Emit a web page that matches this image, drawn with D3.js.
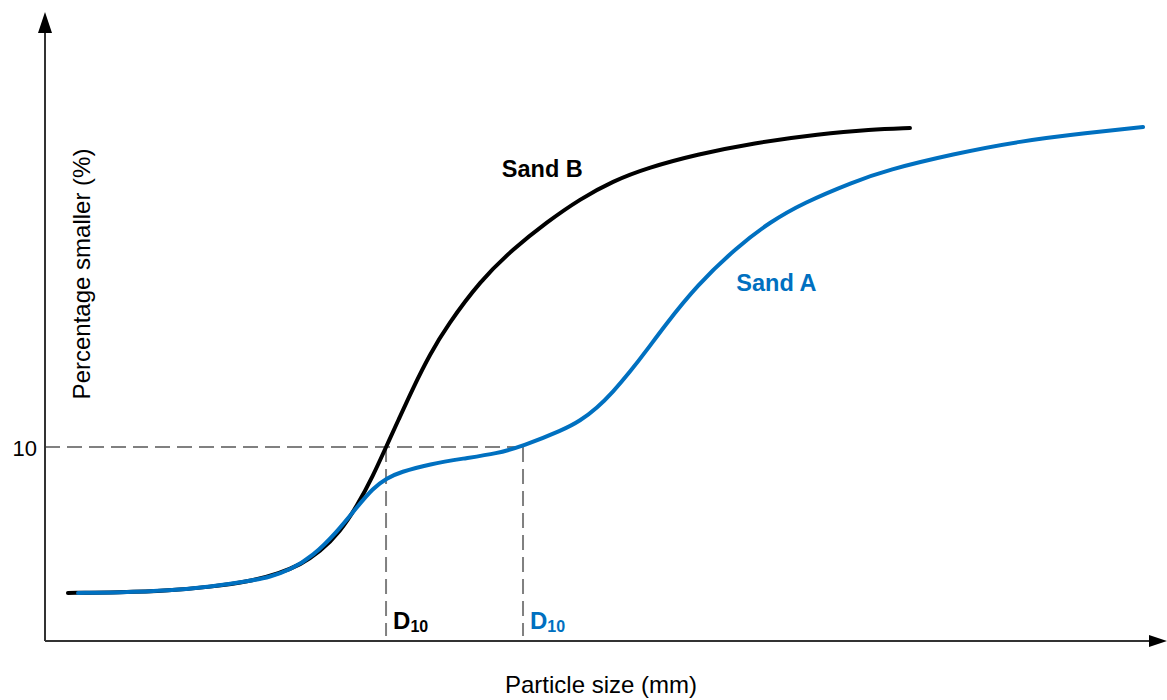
<!DOCTYPE html>
<html>
<head>
<meta charset="utf-8">
<script src="https://cdn.jsdelivr.net/npm/d3@7"></script>
<style>
  html, body { margin: 0; padding: 0; background: #fff; }
  svg { display: block; font-family: "Liberation Sans", Arial, sans-serif; }
</style>
</head>
<body>
<svg id="chart" width="1167" height="700"></svg>
<script>
// ---- data (schematic particle-size distribution curves) ----
const sandBSize = [2.05, 6.7, 11.16, 14.73, 18.3, 20.98, 22.77, 24.55, 26.34, 27.86, 29.29, 30.45, 31.52, 32.86, 34.38, 35.89, 38.84, 41.79, 44.82, 47.77, 50.71, 53.75, 58.21, 63.21, 69.2, 73.66, 77.23];
const sandBPct  = [2.44, 2.46, 2.56, 2.75, 3.03, 3.47, 3.89, 4.56, 5.6, 6.94, 8.5, 10.0, 11.35, 13.06, 14.82, 16.27, 18.6, 20.26, 21.66, 22.85, 23.78, 24.46, 25.16, 25.75, 26.22, 26.45, 26.53];

const sandASize = [2.95, 6.7, 11.16, 14.73, 18.3, 20.09, 21.88, 23.93, 26.07, 27.86, 29.29, 30.54, 31.7, 34.38, 37.32, 40.36, 42.68, 46.25, 47.77, 49.29, 50.71, 52.23, 53.75, 55.18, 58.21, 61.79, 64.73, 67.68, 72.14, 75.18, 81.07, 87.05, 93.04, 98.04];
const sandAPct  = [2.44, 2.46, 2.56, 2.75, 3.06, 3.26, 3.63, 4.35, 5.6, 6.89, 7.88, 8.39, 8.7, 9.12, 9.4, 9.66, 10.05, 10.88, 11.35, 12.02, 12.85, 13.89, 15.03, 16.17, 18.39, 20.36, 21.66, 22.64, 23.73, 24.35, 25.18, 25.85, 26.27, 26.58];

const yTickValues = [10];
const yTickLabels = ["10"];
const d10Values = [30.45, 42.68];          // D10 of Sand B, Sand A
const d10Colors = ["#000000", "#0070C0"];
const seriesNames = ["Sand B", "Sand A"];
const seriesColors = ["#000000", "#0070C0"];
const seriesLabelPos = [[44.4, 24.0], [65.3, 18.1]];  // label anchor in data units
const xTitle = "Particle size (mm)";
const yTitle = "Percentage smaller (%)";

// ---- scales ----
const x = d3.scaleLinear().domain([0, 100]).range([45, 1165]);
const y = d3.scaleLinear().domain([0, 10]).range([640, 447]);

const svg = d3.select("#chart");

// ---- dashed D10 guides ----
const guide = svg.append("g")
  .attr("stroke", "#808080").attr("stroke-width", 2)
  .attr("stroke-dasharray", "15,7").attr("fill", "none");
guide.append("line")
  .attr("x1", x(0)).attr("x2", x(d3.max(d10Values)))
  .attr("y1", y(10)).attr("y2", y(10));
d10Values.forEach(v => {
  guide.append("line")
    .attr("x1", x(v)).attr("x2", x(v))
    .attr("y1", y(10)).attr("y2", y(0) - 4);
});

// ---- curves ----
const line = d3.line().x(d => x(d[0])).y(d => y(d[1])).curve(d3.curveBasis);
const seriesData = [d3.zip(sandBSize, sandBPct), d3.zip(sandASize, sandAPct)];
seriesData.forEach((data, i) => {
  svg.append("path")
    .datum(data)
    .attr("d", line)
    .attr("fill", "none")
    .attr("stroke", seriesColors[i])
    .attr("stroke-width", 4)
    .attr("stroke-linecap", "round")
    .attr("stroke-linejoin", "round");
});

// ---- axes with arrows ----
const axisColor = "#333333";
svg.append("line")
  .attr("x1", x(0)).attr("x2", x(0))
  .attr("y1", y(0) + 1).attr("y2", 28)
  .attr("stroke", axisColor).attr("stroke-width", 2);
svg.append("path")
  .attr("d", `M${x(0)},12 L${x(0) - 7},33 L${x(0) + 7},33 Z`)
  .attr("fill", "#000");
svg.append("line")
  .attr("x1", x(0)).attr("x2", 1152)
  .attr("y1", y(0) + 1).attr("y2", y(0) + 1)
  .attr("stroke", axisColor).attr("stroke-width", 2);
svg.append("path")
  .attr("d", `M1167,${y(0) + 1} L1149,${y(0) - 5} L1149,${y(0) + 7} Z`)
  .attr("fill", "#000");

// ---- y tick label ----
yTickValues.forEach((v, i) => {
  svg.append("text")
    .attr("x", x(0) - 8).attr("y", y(v) + 9)
    .attr("text-anchor", "end")
    .attr("font-size", 22)
    .attr("fill", "#000")
    .text(yTickLabels[i]);
});

// ---- D10 labels ----
d10Values.forEach((v, i) => {
  const t = svg.append("text")
    .attr("x", x(v) + 7).attr("y", y(0) - 11)
    .attr("font-weight", "bold")
    .attr("font-size", 24)
    .attr("fill", d10Colors[i]);
  t.append("tspan").text("D");
  t.append("tspan").attr("font-size", 16).attr("dy", 3).text("10");
});

// ---- series labels ----
seriesNames.forEach((name, i) => {
  svg.append("text")
    .attr("x", x(seriesLabelPos[i][0])).attr("y", y(seriesLabelPos[i][1]))
    .attr("text-anchor", "middle")
    .attr("font-weight", "bold")
    .attr("font-size", 23.5)
    .attr("fill", seriesColors[i])
    .text(name);
});

// ---- axis titles ----
svg.append("text")
  .attr("x", 601).attr("y", 693)
  .attr("text-anchor", "middle")
  .attr("font-size", 24)
  .attr("fill", "#000")
  .text(xTitle);
svg.append("text")
  .attr("transform", "translate(90,274) rotate(-90)")
  .attr("text-anchor", "middle")
  .attr("font-size", 24)
  .attr("fill", "#000")
  .text(yTitle);
</script>
</body>
</html>
